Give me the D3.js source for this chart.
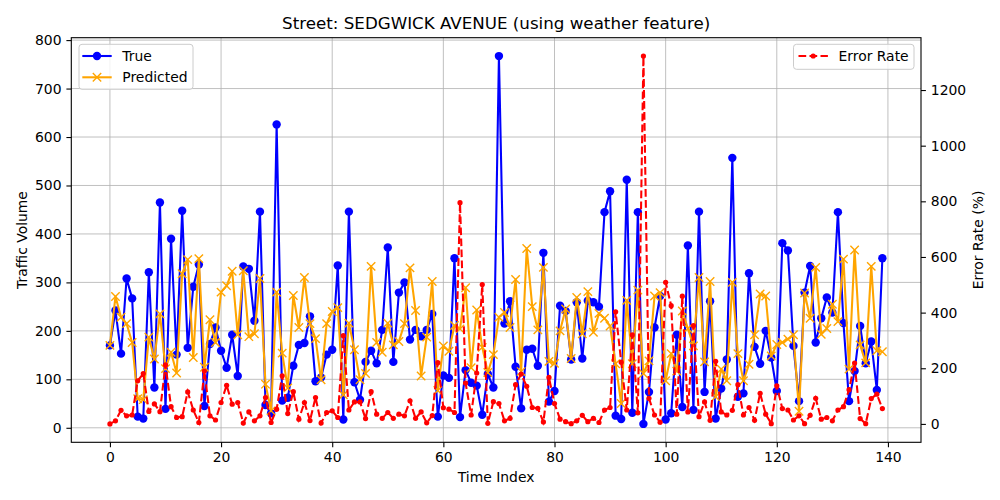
<!DOCTYPE html>
<html>
<head>
<meta charset="utf-8">
<script src="https://cdn.jsdelivr.net/npm/d3@7"></script>
<style>
  body { margin: 0; background: #fff; }
  text { font-family: "DejaVu Sans", sans-serif; }
</style>
</head>
<body>
<svg id="chart" width="1000" height="500"></svg>
<script>
const trueVals = [170,242,153,308,267,23,19,321,83,465,
39,390,151,448,165,291,337,45,173,207,
159,124,192,107,333,328,221,446,47,30,
626,56,62,128,171,175,230,96,104,151,
161,335,17,446,94,58,136,159,133,202,
372,136,279,300,182,202,189,202,235,23,
108,103,350,22,119,93,87,27,111,83,
767,215,261,126,40,161,163,128,361,54,
76,252,241,141,259,143,262,259,250,445,
488,25,18,512,31,445,8,74,207,272,
17,30,192,43,376,37,446,74,261,19,
81,141,557,64,71,319,167,132,200,145,
76,381,366,169,55,279,334,176,226,269,
238,445,216,55,117,210,133,178,78,350];

const predVals = [170,271,228,215,176,60,58,187,142,235,
122,156,113,318,347,145,349,125,223,176,
280,293,323,192,324,188,194,308,90,35,
280,154,82,273,207,310,215,184,99,215,
240,248,68,216,161,99,112,333,176,156,
216,171,178,215,330,242,107,187,302,77,
169,158,211,204,289,124,243,166,114,151,
228,238,207,306,116,370,250,202,331,137,
133,200,245,143,269,194,281,197,236,226,
210,132,50,263,132,284,112,138,272,279,
97,153,117,241,205,169,310,136,302,64,
121,97,300,153,97,131,192,276,272,148,
172,176,183,192,34,278,226,331,193,205,
255,219,348,121,367,171,134,333,159,157];

const errVals = [0,11,49,29,32,155,181,45,72,44,
212,62,23,26,115,50,5,190,29,14,
77,139,71,77,3,43,11,29,95,5,
53,173,37,116,17,77,12,95,3,41,
47,23,317,50,79,79,19,116,35,20,
41,20,35,29,83,20,43,4,30,220,
58,53,41,795,147,32,183,501,2,80,
73,11,20,141,179,135,59,56,7,167,
73,17,8,1,11,31,8,20,5,50,
59,403,222,50,320,40,1322,92,32,6,
509,425,35,459,43,353,26,79,13,225,
43,32,49,141,32,59,13,110,35,1,
137,55,50,14,29,1,31,92,17,23,
11,50,62,123,219,19,1,91,107,55];

const xTicks = [0,20,40,60,80,100,120,140];
const yTicksLeft = [0,100,200,300,400,500,600,700,800];
const yTicksRight = [0,200,400,600,800,1000,1200];

const titleText = "Street: SEDGWICK AVENUE (using weather feature)";
const xLabel = "Time Index";
const yLabelLeft = "Traffic Volume";
const yLabelRight = "Error Rate (%)";

const svg = d3.select("#chart");
const L = 71.3, R = 921, T = 37.7, B = 442.3;
const idx = d3.range(trueVals.length);

function padded(ext) { const s = ext[1]-ext[0]; return [ext[0]-0.05*s, ext[1]+0.05*s]; }

const x = d3.scaleLinear().domain(padded([0, trueVals.length-1])).range([L, R]);
const yL = d3.scaleLinear().domain(padded(d3.extent(trueVals.concat(predVals)))).range([B, T]);
const yR = d3.scaleLinear().domain(padded(d3.extent(errVals))).range([B, T]);

svg.append("rect").attr("width",1000).attr("height",500).attr("fill","#fff");

// grid
const grid = svg.append("g");
grid.selectAll(".gx").data(xTicks).enter().append("line")
  .attr("x1", d=>x(d)).attr("x2", d=>x(d)).attr("y1", T).attr("y2", B)
  .attr("stroke", "#b0b0b0").attr("stroke-width", 0.8);
grid.selectAll(".gy").data(yTicksLeft).enter().append("line")
  .attr("x1", L).attr("x2", R).attr("y1", d=>yL(d)).attr("y2", d=>yL(d))
  .attr("stroke", "#b0b0b0").attr("stroke-width", 0.8);

const clip = svg.append("defs").append("clipPath").attr("id","clip")
  .append("rect").attr("x",L).attr("y",T).attr("width",R-L).attr("height",B-T);

const plot = svg.append("g").attr("clip-path","url(#clip)");

// True
const lineT = d3.line().x(i=>x(i)).y(i=>yL(trueVals[i]));
plot.append("path").attr("d", lineT(idx)).attr("fill","none")
  .attr("stroke","#0000ff").attr("stroke-width",2.08).attr("stroke-linejoin","round");
plot.selectAll(".mt").data(idx).enter().append("circle")
  .attr("cx", i=>x(i)).attr("cy", i=>yL(trueVals[i])).attr("r", 4.2).attr("fill","#0000ff");

// Predicted
const lineP = d3.line().x(i=>x(i)).y(i=>yL(predVals[i]));
plot.append("path").attr("d", lineP(idx)).attr("fill","none")
  .attr("stroke","#ffa500").attr("stroke-width",2.08).attr("stroke-linejoin","round");
const xm = 4.2;
plot.selectAll(".mp").data(idx).enter().append("path")
  .attr("d", i=>{const cx=x(i), cy=yL(predVals[i]);
    return `M${cx-xm},${cy-xm}L${cx+xm},${cy+xm}M${cx-xm},${cy+xm}L${cx+xm},${cy-xm}`;})
  .attr("stroke","#ffa500").attr("stroke-width",1.4).attr("fill","none");

// Error
const lineE = d3.line().x(i=>x(i)).y(i=>yR(errVals[i]));
plot.append("path").attr("d", lineE(idx)).attr("fill","none")
  .attr("stroke","#ff0000").attr("stroke-width",2.08).attr("stroke-dasharray","7.7,3.3");
plot.selectAll(".me").data(idx).enter().append("circle")
  .attr("cx", i=>x(i)).attr("cy", i=>yR(errVals[i])).attr("r", 2.6).attr("fill","#ff0000");

// axes
const fs = "13.9px";
const axB = svg.append("g").attr("transform",`translate(0,${B})`)
  .call(d3.axisBottom(x).tickValues(xTicks).tickSize(4.9).tickPadding(4.9).tickFormat(d3.format("d")));
const axL = svg.append("g").attr("transform",`translate(${L},0)`)
  .call(d3.axisLeft(yL).tickValues(yTicksLeft).tickSize(4.9).tickPadding(4.9).tickFormat(d3.format("d")));
const axR = svg.append("g").attr("transform",`translate(${R},0)`)
  .call(d3.axisRight(yR).tickValues(yTicksRight).tickSize(4.9).tickPadding(4.9).tickFormat(d3.format("d")));
[axB, axL, axR].forEach(a=>{
  a.select(".domain").remove();
  a.selectAll("line").attr("stroke","#000").attr("stroke-width",1.1);
  a.selectAll("text").attr("font-size",fs).attr("fill","#000").attr("font-family","DejaVu Sans");
});

svg.append("rect").attr("x",L).attr("y",T).attr("width",R-L).attr("height",B-T)
  .attr("fill","none").attr("stroke","#000").attr("stroke-width",1.1);

// labels
svg.append("text").attr("x",(L+R)/2).attr("y",29).attr("text-anchor","middle")
  .attr("font-size","16.7px").text(titleText);
svg.append("text").attr("x",(L+R)/2).attr("y",482).attr("text-anchor","middle")
  .attr("font-size",fs).text(xLabel);
svg.append("text").attr("transform",`translate(27,${(T+B)/2}) rotate(-90)`).attr("text-anchor","middle")
  .attr("font-size",fs).text(yLabelLeft);
svg.append("text").attr("transform",`translate(983,${(T+B)/2}) rotate(-90)`).attr("text-anchor","middle")
  .attr("font-size",fs).text(yLabelRight);

// legend 1
const lg1 = svg.append("g");
lg1.append("rect").attr("x",79).attr("y",44.3).attr("width",114).attr("height",45).attr("rx",3)
  .attr("fill","#fff").attr("fill-opacity",0.8).attr("stroke","#cccccc").attr("stroke-width",1);
lg1.append("line").attr("x1",82.3).attr("x2",111.7).attr("y1",56).attr("y2",56)
  .attr("stroke","#0000ff").attr("stroke-width",2.08);
lg1.append("circle").attr("cx",97).attr("cy",56).attr("r",4.2).attr("fill","#0000ff");
lg1.append("text").attr("x",122.3).attr("y",61).attr("font-size",fs).text("True");
lg1.append("line").attr("x1",82.3).attr("x2",111.7).attr("y1",77.3).attr("y2",77.3)
  .attr("stroke","#ffa500").attr("stroke-width",2.08);
lg1.append("path").attr("d",`M${97-xm},${77.3-xm}L${97+xm},${77.3+xm}M${97-xm},${77.3+xm}L${97+xm},${77.3-xm}`)
  .attr("stroke","#ffa500").attr("stroke-width",1.4);
lg1.append("text").attr("x",122.3).attr("y",82.3).attr("font-size",fs).text("Predicted");

// legend 2
const lg2 = svg.append("g");
lg2.append("rect").attr("x",793.5).attr("y",44.3).attr("width",120.5).attr("height",25).attr("rx",3)
  .attr("fill","#fff").attr("fill-opacity",0.8).attr("stroke","#cccccc").attr("stroke-width",1);
lg2.append("line").attr("x1",798.5).attr("x2",827.9).attr("y1",56).attr("y2",56)
  .attr("stroke","#ff0000").attr("stroke-width",2.08).attr("stroke-dasharray","7.7,3.3");
lg2.append("circle").attr("cx",813.2).attr("cy",56).attr("r",2.6).attr("fill","#ff0000");
lg2.append("text").attr("x",838.5).attr("y",61).attr("font-size",fs).text("Error Rate");
</script>
</body>
</html>
